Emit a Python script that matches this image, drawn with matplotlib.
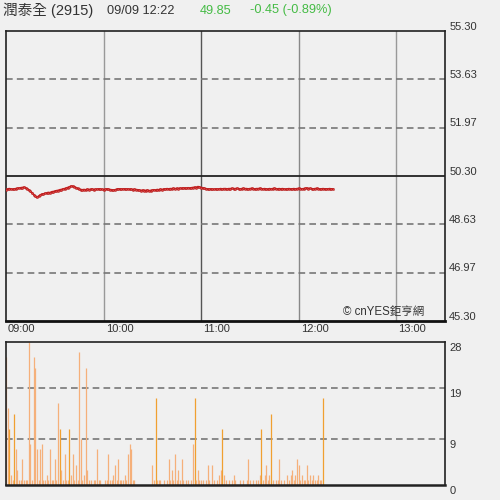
import matplotlib
matplotlib.use("Agg")
import matplotlib.pyplot as plt
import numpy as np

# ---- data ----
title_name = "潤泰全 (2915)"
title_time = "09/09 12:22"
last_price = "49.85"
change_text = "-0.45 (-0.89%)"
prev_close = 50.30
price_ticks = [45.30, 46.97, 48.63, 50.30, 51.97, 53.63, 55.30]
vol_ticks = [0, 9, 19, 28]
time_labels = ["09:00", "10:00", "11:00", "12:00", "13:00"]
time_label_minutes = [0, 60, 120, 180, 240]

prices = [
    49.83, 49.85, 49.86, 49.85, 49.84, 49.85, 49.86, 49.87, 49.88, 49.89,
    49.90, 49.91, 49.89, 49.86, 49.82, 49.77, 49.72, 49.66, 49.60, 49.56,
    49.60, 49.64, 49.67, 49.68, 49.70, 49.71, 49.73, 49.72, 49.75, 49.76,
    49.77, 49.79, 49.80, 49.82, 49.83, 49.85, 49.86, 49.88, 49.90, 49.92,
    49.95, 49.94, 49.93, 49.90, 49.87, 49.84, 49.83, 49.82, 49.83, 49.82,
    49.84, 49.83, 49.84, 49.84, 49.83, 49.84, 49.84, 49.85, 49.84, 49.84,
    49.83, 49.84, 49.85, 49.84, 49.83, 49.82, 49.81, 49.82, 49.84, 49.85,
    49.85, 49.84, 49.85, 49.85, 49.84, 49.85, 49.84, 49.84, 49.83, 49.84,
    49.83, 49.82, 49.81, 49.80, 49.81, 49.80, 49.80, 49.81, 49.79, 49.80,
    49.81, 49.82, 49.81, 49.83, 49.82, 49.84, 49.83, 49.85, 49.84, 49.86,
    49.85, 49.86, 49.86, 49.87, 49.86, 49.87, 49.86, 49.88, 49.87, 49.88,
    49.88, 49.87, 49.89, 49.88, 49.89, 49.90, 49.91, 49.90, 49.93, 49.92,
    49.90, 49.89, 49.87, 49.86, 49.85, 49.84, 49.85, 49.84, 49.84, 49.85,
    49.84, 49.85, 49.86, 49.85, 49.86, 49.86, 49.85, 49.86, 49.86, 49.87,
    49.86, 49.86, 49.87, 49.86, 49.85, 49.86, 49.87, 49.86, 49.86, 49.85,
    49.86, 49.87, 49.86, 49.85, 49.86, 49.86, 49.87, 49.86, 49.85, 49.86,
    49.85, 49.84, 49.86, 49.85, 49.86, 49.87, 49.86, 49.85, 49.86, 49.85,
    49.86, 49.85, 49.84, 49.85, 49.86, 49.85, 49.85, 49.86, 49.85, 49.86,
    49.87, 49.86, 49.85, 49.86, 49.87, 49.88, 49.86, 49.87, 49.86, 49.85,
    49.86, 49.87, 49.86, 49.85, 49.85, 49.86, 49.85, 49.85, 49.85, 49.86,
    49.85, 49.85,
]

volumes = [
    25, 15, 11, 2, 1, 14, 7, 3, 1, 1,
    5, 1, 1, 1, 28, 8, 1, 25, 23, 7,
    1, 7, 8, 1, 1, 2, 1, 7, 1, 1,
    5, 1, 16, 11, 3, 1, 6, 1, 1, 11,
    2, 6, 1, 4, 1, 26, 9, 1, 2, 23,
    3, 1, 1, 0, 1, 1, 7, 1, 1, 0,
    0, 1, 1, 6, 1, 1, 2, 4, 1, 5,
    1, 1, 1, 2, 1, 6, 8, 7, 1, 1,
    0, 0, 0, 0, 0, 0, 0, 0, 0, 0,
    4, 1, 17, 1, 1, 1, 0, 1, 0, 1,
    5, 1, 3, 1, 6, 1, 3, 1, 5, 1,
    0, 1, 1, 0, 1, 8, 17, 1, 3, 1,
    1, 1, 0, 1, 4, 1, 0, 4, 1, 0,
    1, 2, 3, 11, 2, 1, 0, 1, 0, 1,
    2, 1, 0, 0, 1, 0, 1, 0, 1, 5,
    1, 0, 1, 0, 1, 1, 2, 11, 1, 2,
    4, 1, 2, 14, 1, 0, 1, 1, 5, 1,
    0, 1, 0, 2, 1, 2, 3, 1, 2, 5,
    4, 1, 2, 1, 1, 4, 1, 2, 1, 2,
    1, 1, 2, 1, 1, 17, 0, 0, 0, 0,
    0, 0,
]

# ---- style ----
BG = "#f0f0f0"
FONT = ["Liberation Sans", "Noto Sans CJK TC", "DejaVu Sans"]
plt.rcParams["font.family"] = FONT

fig = plt.figure(figsize=(5, 5), dpi=100, facecolor=BG)
ax = fig.add_axes([0.012, 0.358, 0.878, 0.58], facecolor=BG)
axv = fig.add_axes([0.012, 0.030, 0.878, 0.286], facecolor=BG)

minutes = np.arange(len(prices))
vmin = np.arange(len(volumes))

# ---- price panel ----
ax.set_xlim(0, 270)
ax.set_ylim(price_ticks[0], price_ticks[-1])
for p in price_ticks[1:-1]:
    if abs(p - prev_close) < 1e-6:
        ax.axhline(p, color="#222222", lw=1.3, zorder=2)
    else:
        ax.axhline(p, color="#777777", lw=1.2, ls=(0, (4, 2.5)), zorder=2)
vcols = {60: "#999999", 120: "#555555", 180: "#888888", 240: "#999999"}
for m, c in vcols.items():
    ax.axvline(m, color=c, lw=1.0, zorder=1)
ax.plot(minutes, prices, color="#d02a2a", lw=1.4, zorder=3,
        marker="s", ms=1.2, mfc="#e04040", mec="#b01818", mew=0.4)

ax.set_xticks([])
ax.set_yticks([])
for s in ["left", "top", "right"]:
    ax.spines[s].set_color("#222222")
    ax.spines[s].set_linewidth(1.2)
ax.spines["bottom"].set_color("#111111")
ax.spines["bottom"].set_linewidth(2.0)

for p in price_ticks:
    ax.annotate(f"{p:.2f}", xy=(1.0, p), xycoords=("axes fraction", "data"),
                xytext=(3, 3), textcoords="offset points", ha="left",
                va="center", fontsize=8, color="#333333", annotation_clip=False)

for lab, m in zip(time_labels, time_label_minutes):
    ax.annotate(lab, xy=(m, 0), xycoords=("data", "axes fraction"),
                xytext=(1.5, -5.5), textcoords="offset points", ha="left",
                va="center", fontsize=8, color="#333333", annotation_clip=False)

ax.text(0.952, 0.012, "© cnYES鉅亨網", transform=ax.transAxes, ha="right",
        va="bottom", fontsize=8.3, color="#333333", zorder=5)

# ---- volume panel ----
axv.set_xlim(0, 270)
axv.set_ylim(0, 28)
for v in vol_ticks[1:-1]:
    axv.axhline(v, color="#777777", lw=1.2, ls=(0, (4, 2.5)), zorder=1)
vols = np.array(volumes)
colors = ["#f0a030" if v in (17, 11, 14) else "#f5b07a" for v in vols]
axv.vlines(vmin[vols > 0], 0, vols[vols > 0], colors=np.array(colors)[vols > 0],
           lw=0.9, zorder=2)
axv.set_xticks([])
axv.set_yticks([])
for s in ["left", "top", "right", "bottom"]:
    axv.spines[s].set_color("#222222")
    axv.spines[s].set_linewidth(1.2)
axv.spines["bottom"].set_linewidth(1.8)

for v in vol_ticks:
    axv.annotate(f"{v}", xy=(1.0, v), xycoords=("axes fraction", "data"),
                 xytext=(3, -4.5), textcoords="offset points", ha="left",
                 va="center", fontsize=8, color="#333333", annotation_clip=False)

# ---- header ----
fig.text(0.006, 0.979, title_name, ha="left", va="center", fontsize=10.5, color="#333333")
fig.text(0.214, 0.979, title_time, ha="left", va="center", fontsize=9.2, color="#333333")
fig.text(0.400, 0.979, last_price, ha="left", va="center", fontsize=9.2, color="#44bb44")
fig.text(0.500, 0.979, change_text, ha="left", va="center", fontsize=9.2, color="#44bb44")

fig.savefig("out.png", dpi=100, facecolor=BG)
